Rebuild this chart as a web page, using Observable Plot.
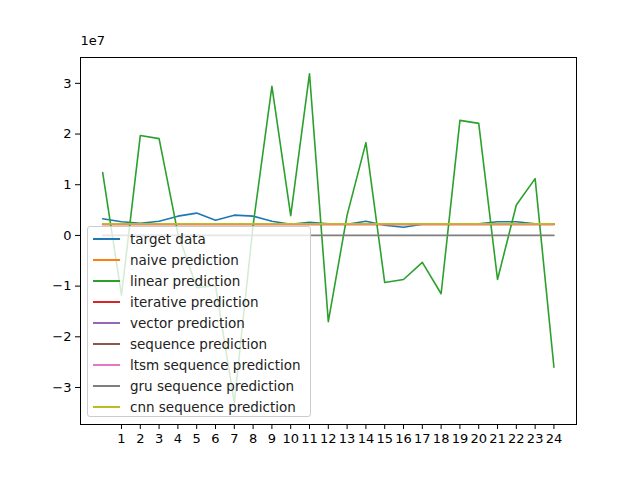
<!DOCTYPE html>
<html><head><meta charset="utf-8">
<script src="https://cdn.jsdelivr.net/npm/d3@7"></script>
<script src="https://cdn.jsdelivr.net/npm/@observablehq/plot@0.6"></script>
<style>
body{margin:0;background:#fff;font-family:"DejaVu Sans",sans-serif}
#wrap{position:relative;width:640px;height:478px}
#legend{position:absolute;left:87px;top:226px;width:224px;height:191px;border:1px solid #ccc;border-radius:3px;background:rgba(255,255,255,0.8);box-sizing:border-box;font-size:13.5px;color:#222}
.row{display:flex;align-items:center;height:21px}
.sw{width:27px;height:2px;margin:0 10px 0 5px}
</style></head><body>
<div id="wrap"><div id="chart"></div><div id="legend"></div></div>
<script>
const steps = d3.range(25)
const target = [3.3e6,2.7e6,2.4e6,2.8e6,3.8e6,4.4e6,3.0e6,4.0e6,3.8e6,2.8e6,2.2e6,2.6e6,2.3e6,2.2e6,2.8e6,2.0e6,1.6e6,2.2e6,2.3e6,2.3e6,2.3e6,2.7e6,2.7e6,2.3e6,2.3e6]
const naive = steps.map(() => 2.1e6)
const linear = [1.24e7,-1.18e7,1.97e7,1.91e7,0.4e6,-1.03e7,-0.99e7,-3.3e7,2e6,2.94e7,0.39e7,3.19e7,-1.7e7,0.4e7,1.83e7,-0.93e7,-0.87e7,-0.53e7,-1.15e7,2.27e7,2.21e7,-0.87e7,0.6e7,1.12e7,-2.6e7]
const iterative = steps.map(() => 2.2e6)
const vector = steps.map(() => 2.2e6)
const sequence = steps.map(() => 2.2e6)
const ltsm = steps.map(() => 2.2e6)
const gru = steps.map(() => 0)
const cnn = steps.map(() => 2.3e6)

const series = [
  ['target data', target, '#1f77b4'],
  ['naive prediction', naive, '#ff7f0e'],
  ['linear prediction', linear, '#2ca02c'],
  ['iterative prediction', iterative, '#d62728'],
  ['vector prediction', vector, '#9467bd'],
  ['sequence prediction', sequence, '#8c564b'],
  ['ltsm sequence prediction', ltsm, '#e377c2'],
  ['gru sequence prediction', gru, '#7f7f7f'],
  ['cnn sequence prediction', cnn, '#bcbd22'],
]

const chart = Plot.plot({
  width: 640, height: 478,
  marginLeft: 80, marginRight: 64, marginTop: 57, marginBottom: 54,
  style: {fontFamily: '"DejaVu Sans", sans-serif', fontSize: '13px', color: '#000'},
  x: {domain: [-1.18, 25.2], ticks: d3.range(1, 25), tickFormat: d => d, label: null, tickSize: 5},
  y: {domain: [-3.73e7, 3.51e7], ticks: [-3e7,-2e7,-1e7,0,1e7,2e7,3e7], tickFormat: d => d3.format('d')(d / 1e7).replace('-', '−'), label: null, tickSize: 5},
  marks: [
    Plot.frame({stroke: '#000'}),
    ...series.map(([name, vals, color]) =>
      Plot.line(steps, {x: d => d, y: d => vals[d], stroke: color, strokeWidth: 1.6})),
    Plot.text(['1e7'], {frameAnchor: 'top-left', dx: 0, dy: -22, fontSize: 13})
  ]
})
document.getElementById('chart').append(chart)

d3.select('#legend').style('padding-top', '1px').selectAll('div').data(series).join('div')
  .attr('class', 'row')
  .html(d => `<div class="sw" style="background:${d[2]}"></div><span>${d[0]}</span>`)
</script>
</body></html>
